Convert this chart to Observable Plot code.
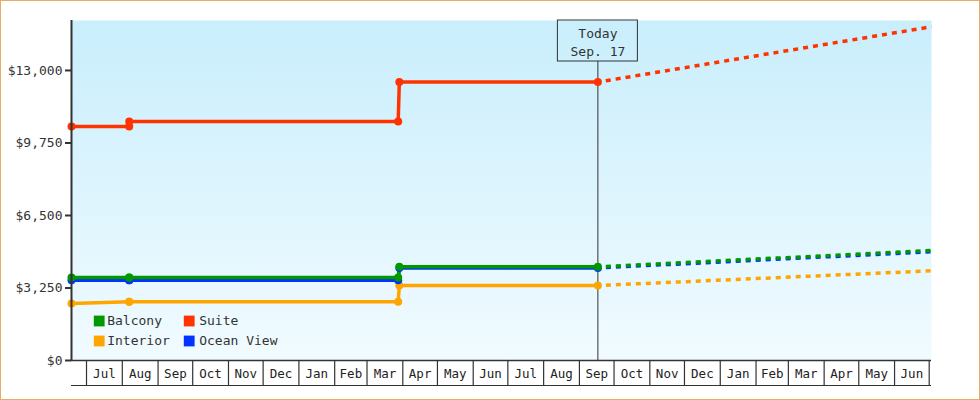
<!DOCTYPE html>
<html>
<head>
<meta charset="utf-8">
<script src="https://cdn.jsdelivr.net/npm/d3@7"></script>
<script src="https://cdn.jsdelivr.net/npm/@observablehq/plot@0.6"></script>
<style>
  html, body { margin: 0; padding: 0; background: #fff; }
  #wrap { position: relative; width: 980px; height: 400px; overflow: hidden; }
  #border { position: absolute; left: 0; top: 0; width: 980px; height: 400px; box-sizing: border-box; border: 1px solid #e8ac68; pointer-events: none; }
</style>
</head>
<body>
<div id="wrap"><div id="chart"></div><div id="border"></div></div>
<script>
// ---- data ----
const startDate = "2016-06-18";
const endDate = "2018-07-03";
const todayDate = "2017-09-17";
const todayLabel = "Today\nSep. 17";

const seriesNames = ["Interior", "Ocean View", "Balcony", "Suite"];
const seriesColors = ["#ffa500", "#0033ff", "#009900", "#ff3300"];

// observed prices (dates shared)
const priceDates = ["2016-06-18", "2016-08-07", "2016-08-07", "2017-03-28", "2017-03-29", "2017-09-17"];
const interiorPrices = [2560, 2630, 2630, 2630, 3360, 3360];
const oceanViewPrices = [3600, 3600, 3600, 3600, 4150, 4150];
const balconyPrices = [3720, 3720, 3720, 3720, 4200, 4200];
const suitePrices = [10490, 10490, 10710, 10710, 12480, 12480];

// forecast (from today to end)
const forecastDates = ["2017-09-17", "2018-07-03"];
const interiorForecast = [3360, 4020];
const oceanViewForecast = [4150, 4875];
const balconyForecast = [4200, 4930];
const suiteForecast = [12480, 14960];

const yMax = 15240;
const yTicks = [0, 3250, 6500, 9750, 13000];
const monthLabels = ["Jul","Aug","Sep","Oct","Nov","Dec","Jan","Feb","Mar","Apr","May","Jun",
                     "Jul","Aug","Sep","Oct","Nov","Dec","Jan","Feb","Mar","Apr","May","Jun"];
const firstMonth = "2016-07-01";

const legendOrder = ["Balcony", "Suite", "Interior", "Ocean View"];

// ---- build tables ----
const parse = s => new Date(s + "T00:00:00Z");
const observed = [interiorPrices, oceanViewPrices, balconyPrices, suitePrices];
const forecast = [interiorForecast, oceanViewForecast, balconyForecast, suiteForecast];
const colorOf = Object.fromEntries(seriesNames.map((n, i) => [n, seriesColors[i]]));

const obsRows = [];
const fcRows = [];
seriesNames.forEach((name, i) => {
  priceDates.forEach((d, j) => obsRows.push({series: name, date: parse(d), price: observed[i][j]}));
  forecastDates.forEach((d, j) => fcRows.push({series: name, date: parse(d), price: forecast[i][j]}));
});

const m0 = parse(firstMonth);
const monthStarts = d3.utcMonth.range(m0, d3.utcMonth.offset(m0, monthLabels.length + 1));
const monthCells = monthLabels.map((label, i) => ({
  label,
  date: new Date((monthStarts[i].getTime() + monthStarts[i + 1].getTime()) / 2)
}));

const x0 = parse(startDate), x1 = parse(endDate), today = parse(todayDate);

const legendMarks = [];
legendOrder.forEach((name, i) => {
  const col = i % 2, row = Math.floor(i / 2);
  const sx = 27.7 + col * 90, sy = -39.5 + row * 20;
  legendMarks.push(Plot.dot([name], {frameAnchor: "bottom-left", dx: sx, dy: sy, symbol: "square", r: 6.1, fill: colorOf[name]}));
  legendMarks.push(Plot.text([name], {frameAnchor: "bottom-left", dx: sx + 8 + col * 2, dy: sy, text: d => d, textAnchor: "start", lineAnchor: "middle", fontSize: 13, fill: "#333"}));
});

const lineMarks = [];
const dotMarks = [];
const fcMarks = [];
seriesNames.forEach(name => {
  const o = obsRows.filter(r => r.series === name);
  const f = fcRows.filter(r => r.series === name);
  fcMarks.push(Plot.line(f, {x: "date", y: "price", stroke: colorOf[name], strokeWidth: 3.5, strokeDasharray: "5,5", strokeDashoffset: 2, strokeLinecap: "butt"}));
  lineMarks.push(Plot.line(o, {x: "date", y: "price", stroke: colorOf[name], strokeWidth: 3.5}));
  dotMarks.push(Plot.dot(o, {x: "date", y: "price", fill: colorOf[name], r: 4}));
});

const chart = Plot.plot({
  width: 980,
  height: 400,
  marginLeft: 71,
  marginRight: 49,
  marginTop: 20,
  marginBottom: 40,
  style: {fontFamily: "'DejaVu Sans Mono', monospace", fontSize: "13px", color: "#333", background: "transparent", overflow: "visible"},
  x: {type: "utc", domain: [x0, x1], axis: null},
  y: {domain: [0, yMax], axis: null},
  marks: [
    Plot.frame({fill: "url(#bgGrad)", stroke: "none"}),
    ...legendMarks,
    Plot.ruleX([today], {x: d => d, insetTop: 41, stroke: "#333", strokeWidth: 1}),
    Plot.rect([today], {x1: d => d, x2: d => d, y1: yMax, y2: yMax, insetLeft: -40, insetRight: -40, insetBottom: -41, fill: "none", stroke: "#333", strokeWidth: 1}),
    Plot.text([today], {x: d => d, y: yMax, dy: 21, text: () => todayLabel, lineAnchor: "middle", lineHeight: 1.35, fontSize: 13, fill: "#333"}),
    ...fcMarks,
    ...lineMarks,
    ...dotMarks,
    Plot.axisY({ticks: yTicks, tickFormat: d3.format("$,"), tickSize: 6, tickPadding: 3, fontSize: 13, stroke: "#333", strokeWidth: 2, fill: "#333", label: null}),
    Plot.ruleX([x0], {x: d => d, stroke: "#333", strokeWidth: 2}),
    Plot.ruleY([0], {stroke: "#333", strokeWidth: 1.5}),
    Plot.ruleY([0], {dy: 25, stroke: "#333", strokeWidth: 1.2}),
    Plot.axisX({ticks: monthStarts, tickSize: 25, tickFormat: () => "", stroke: "#333", strokeWidth: 1.2, label: null}),
    Plot.text(monthCells, {x: "date", y: 0, dy: 13, text: "label", fontSize: 12.5, fill: "#222"})
  ]
});

const ns = "http://www.w3.org/2000/svg";
const defs = document.createElementNS(ns, "defs");
const grad = document.createElementNS(ns, "linearGradient");
grad.setAttribute("id", "bgGrad");
grad.setAttribute("x1", "0"); grad.setAttribute("y1", "0");
grad.setAttribute("x2", "0"); grad.setAttribute("y2", "1");
[["0", "#c9eefc"], ["1", "#f1fbff"]].forEach(([off, col]) => {
  const s = document.createElementNS(ns, "stop");
  s.setAttribute("offset", off);
  s.setAttribute("stop-color", col);
  grad.appendChild(s);
});
defs.appendChild(grad);
chart.insertBefore(defs, chart.firstChild);

document.getElementById("chart").appendChild(chart);
</script>
</body>
</html>
